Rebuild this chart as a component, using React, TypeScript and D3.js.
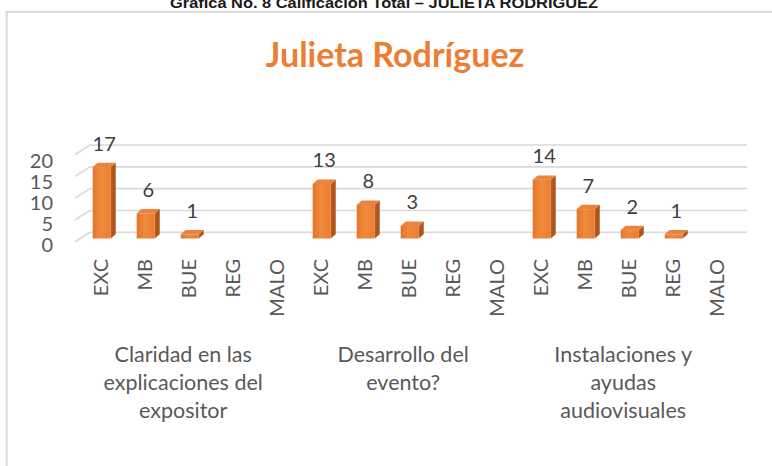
import React from "react";
import * as d3 from "d3";

const categories = ["EXC", "MB", "BUE", "REG", "MALO"];
const groupLabels = [
  ["Claridad en las", "explicaciones del", "expositor"],
  ["Desarrollo del", "evento?"],
  ["Instalaciones y", "ayudas", "audiovisuales"],
];
const claridad = [17, 6, 1, 0, 0];
const desarrollo = [13, 8, 3, 0, 0];
const instalaciones = [14, 7, 2, 1, 0];
const seriesValues = [claridad, desarrollo, instalaciones];
const yTicks = [0, 5, 10, 15, 20];

const W = 772;
const H = 466;
const FONT = "Lato, 'Open Sans', sans-serif";

export default function App() {
  const slots = d3.range(groupLabels.length * categories.length);
  const x = d3
    .scaleBand<number>()
    .domain(slots)
    .range([79.7, 739.7])
    .paddingInner(0.59)
    .paddingOuter(0.295);
  const yBar = d3.scaleLinear().domain([0, 20]).range([238.5, 154.5]);
  const yWall = d3.scaleLinear().domain([0, 20]).range([232.3, 145]);
  const yFront = d3.scaleLinear().domain([0, 20]).range([245, 160.7]);
  const bw = x.bandwidth();
  const dx = 5;
  const dy = -4.3;

  const bars = seriesValues.flatMap((vals, g) =>
    vals.map((v, c) => ({ g, c, v, slot: g * categories.length + c }))
  );

  return (
    <div style={{ position: "absolute", left: 0, top: 0 }}>
      <svg width={W} height={H} style={{ display: "block", background: "#fff" }}>
        <defs>
          <linearGradient id="front" x1="0" x2="1" y1="0" y2="0">
            <stop offset="0" stopColor="#E2762C" />
            <stop offset="0.45" stopColor="#F08A3C" />
            <stop offset="1" stopColor="#EA7C31" />
          </linearGradient>
          <linearGradient id="side" x1="0" x2="1" y1="0" y2="0">
            <stop offset="0" stopColor="#B85C1E" />
            <stop offset="1" stopColor="#A9521A" />
          </linearGradient>
        </defs>

        <text
          x={384}
          y={7.5}
          textAnchor="middle"
          fontFamily="'Liberation Sans Narrow', 'Arial Narrow', 'Liberation Sans', sans-serif"
          fontWeight="bold"
          fontSize={15}
          fill="#1a1a1a"
          textLength={428}
          lengthAdjust="spacingAndGlyphs"
        >
          Gráfica No. 8 Calificación Total – JULIETA RODRÍGUEZ
        </text>

        <rect x={6.7} y={11.8} width={800} height={500} fill="none" stroke="#d9d9d9" strokeWidth={2} />

        <text
          x={395}
          y={67}
          textAnchor="middle"
          fontFamily={FONT}
          fontWeight="bold"
          fontSize={34}
          fill="#ED7D31"
        >
          Julieta Rodríguez
        </text>

        {yTicks.map((t) => (
          <g key={t}>
            <line x1={90} x2={747} y1={yWall(t)} y2={yWall(t)} stroke="#d9d9d9" strokeWidth={1.6} />
            <line x1={75} x2={90} y1={yWall(t) + 9.5} y2={yWall(t)} stroke="#d9d9d9" strokeWidth={1.6} />
            <text
              x={53}
              y={yFront(t) + 7}
              textAnchor="end"
              fontFamily={FONT}
              fontSize={20}
              fill="#595959"
            >
              {t}
            </text>
          </g>
        ))}

        {bars
          .filter((b) => b.v > 0)
          .map((b) => {
            const x0 = x(b.slot) as number;
            const top = yBar(b.v);
            const bottom = yBar(0);
            return (
              <g key={b.slot}>
                <polygon
                  points={`${x0 + bw},${top} ${x0 + bw + dx},${top + dy} ${x0 + bw + dx},${bottom + dy} ${x0 + bw},${bottom}`}
                  fill="url(#side)"
                />
                <polygon
                  points={`${x0},${top} ${x0 + dx},${top + dy} ${x0 + bw + dx},${top + dy} ${x0 + bw},${top}`}
                  fill="#E9843F"
                />
                <rect x={x0} y={top} width={bw} height={bottom - top} fill="url(#front)" />
                <text
                  x={x0 + bw / 2 + dx / 2}
                  y={top - 16.5}
                  textAnchor="middle"
                  fontFamily={FONT}
                  fontSize={20}
                  fill="#404040"
                >
                  {b.v}
                </text>
              </g>
            );
          })}

        {bars.map((b) => {
          const cx = (x(b.slot) as number) + bw / 2 - 2;
          return (
            <text
              key={"t" + b.slot}
              transform={`translate(${cx},259) rotate(-90)`}
              textAnchor="end"
              dominantBaseline="central"
              fontFamily={FONT}
              fontSize={20}
              fill="#595959"
            >
              {categories[b.c]}
            </text>
          );
        })}

        {groupLabels.map((lines, g) => {
          const first = x(g * categories.length) as number;
          const last = (x(g * categories.length + categories.length - 1) as number) + bw;
          const cx = (first + last) / 2 - 6.5;
          return (
            <text key={"g" + g} textAnchor="middle" fontFamily={FONT} fontSize={21.5} fill="#595959">
              {lines.map((ln, i) => (
                <tspan key={i} x={cx} y={361.5 + i * 28.4}>
                  {ln}
                </tspan>
              ))}
            </text>
          );
        })}
      </svg>
    </div>
  );
}
